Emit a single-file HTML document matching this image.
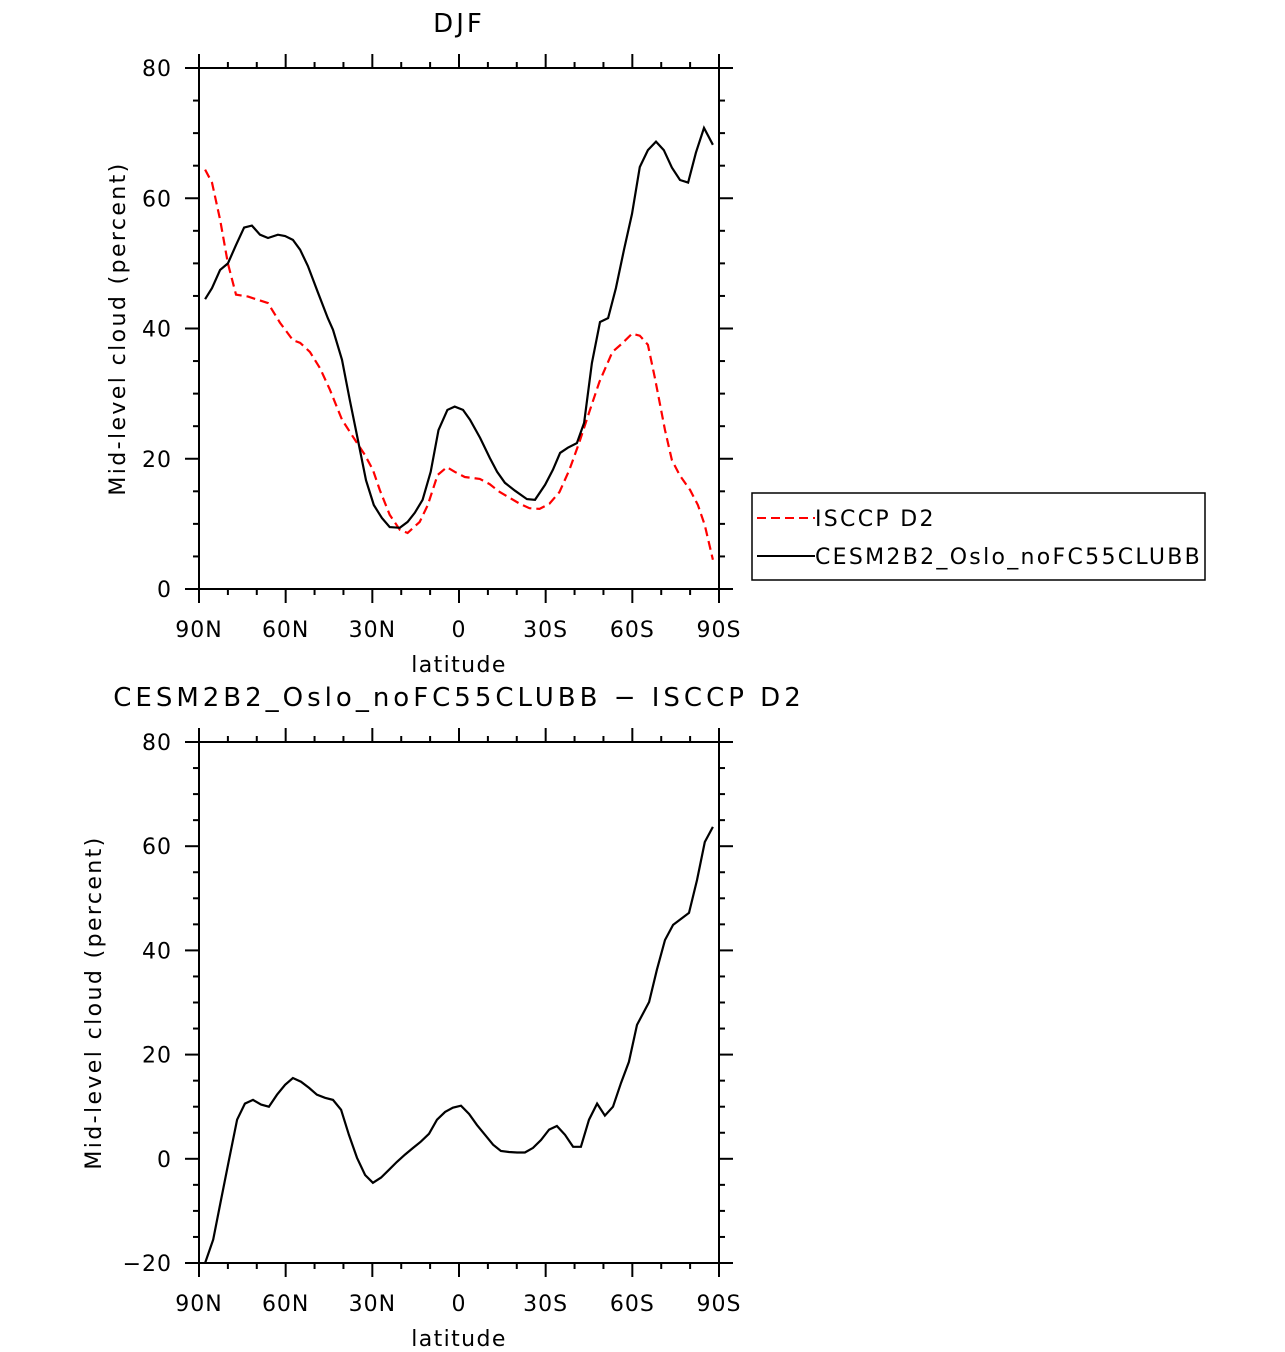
<!DOCTYPE html>
<html><head><meta charset="utf-8"><style>
body{margin:0;background:#fff;}
svg{display:block;font-family:"DejaVu Sans","Liberation Sans",sans-serif;}
</style></head><body>
<svg id="s" width="1285" height="1352" viewBox="0 0 1285 1352"></svg>
<script>
const xTickLats=[90,60,30,0,-30,-60,-90];
const xTickLabels=["90N","60N","30N","0","30S","60S","90S"];
const topYTicks=[0,20,40,60,80];
const botYTicks=[-20,0,20,40,60,80];
const isccpLat=[87.9,85.5,82.7,80,77.2,73,69.6,66.1,62,57.5,55,51.6,48.1,44.7,40.5,36,32.6,29.8,27.4,24,20.5,17.8,13.6,10.8,7.4,4.2,1.5,-2,-7.2,-10.6,-14.1,-17.5,-21,-24.4,-27.9,-31.3,-34.8,-38.2,-41.7,-45.1,-48.6,-53.1,-56.2,-59.9,-62.6,-65.4,-67.8,-71.3,-73.7,-76.5,-80,-82.7,-85.1,-87.9];
const isccpVal=[64.4,62.4,56.7,50,45.2,44.9,44.4,43.9,40.9,38.2,37.8,36.4,33.9,30.6,26,22.9,20.6,18.3,15.2,11.4,9.1,8.6,10.3,12.9,17.5,18.7,18,17.2,16.9,16.1,14.9,14,13.1,12.4,12.3,13.1,14.9,18.3,22.6,27.2,31.8,36.4,37.6,39.2,38.9,37.5,32.4,24.4,19.8,17.4,15.2,12.9,9.8,4.5];
const modelLat=[87.9,85.5,82.7,80,77.2,74.4,71.7,68.9,66.1,62.7,60.2,57.5,55,52.3,48.8,45.4,43.6,40.5,37.8,35,32.2,29.5,26.7,24,20.5,17.8,15.3,12.6,9.8,7.1,4,1.5,-1.4,-3.8,-7.3,-10.7,-13.2,-15.9,-19.4,-23.5,-26.3,-29.8,-32.5,-35,-37.7,-40.8,-43.3,-46,-48.8,-51.6,-54.3,-57.1,-59.9,-62.6,-65.4,-68.2,-70.9,-73.7,-76.5,-79.3,-82,-84.8,-87.9];
const modelVal=[44.5,46.2,49,50,52.8,55.5,55.8,54.4,53.9,54.4,54.2,53.6,52.1,49.6,45.5,41.6,39.8,35.2,29,22.9,16.7,12.9,10.9,9.5,9.4,10.3,11.7,13.7,18,24.4,27.5,28,27.5,26,23.2,20.1,18,16.3,15.1,13.8,13.7,16,18.3,20.9,21.7,22.4,25.5,34.7,41,41.6,46.2,52.1,57.6,64.8,67.4,68.7,67.4,64.7,62.8,62.4,67,70.8,68.2];
const diffLat=[87.9,85.1,82.4,79.6,76.8,74.1,71.3,68.5,65.8,63,60.2,57.5,54.7,51.9,49.2,46.4,43.6,40.8,38.1,35.3,32.5,29.8,27,24.2,21.5,18.7,15.9,13.2,10.4,7.6,4.8,2.1,-0.7,-3.5,-6.2,-9,-11.8,-14.5,-17.3,-20.1,-22.8,-25.6,-28.4,-31.2,-33.9,-36.7,-39.5,-42.2,-45,-47.8,-50.5,-53.3,-56.1,-58.8,-61.6,-65.8,-68.5,-71.3,-74.1,-79.6,-82.4,-85.1,-87.9];
const diffVal=[-20,-15.5,-7.9,-0.2,7.5,10.6,11.3,10.4,10,12.3,14.2,15.5,14.8,13.6,12.3,11.7,11.3,9.4,4.6,0.2,-3.1,-4.6,-3.6,-2.1,-0.6,0.8,2.1,3.3,4.8,7.5,9,9.8,10.2,8.6,6.5,4.6,2.7,1.5,1.3,1.2,1.2,2.1,3.6,5.6,6.3,4.6,2.3,2.3,7.5,10.6,8.3,10,14.6,18.6,25.7,30.1,36.3,42,44.9,47.2,53.5,60.8,63.7];

const svg=document.getElementById('s');
const NS='http://www.w3.org/2000/svg';
function el(t,a,txt){const e=document.createElementNS(NS,t);for(const k in a)e.setAttribute(k,a[k]);if(txt!==undefined)e.textContent=txt;svg.appendChild(e);return e;}
const X0=199,X1=719;
const xs=lat=>X0+(90-lat)/180*(X1-X0);

function panel(p,top,bot,ymin,ymax,yticks,title,titleSpacing){
  const ys=v=>bot-(v-ymin)/(ymax-ymin)*(bot-top);
  let r=el('rect',{x:X0,y:top,width:X1-X0,height:bot-top,fill:'none',stroke:'#000','stroke-width':2});
  
  
  for(let v=ymin;v<=ymax;v+=5){
    const major=yticks.includes(v);const L=major?14:6;
    el('line',{x1:X0-L,x2:X0,y1:ys(v),y2:ys(v),stroke:'#000','stroke-width':2});
    el('line',{x1:X1,x2:X1+L,y1:ys(v),y2:ys(v),stroke:'#000','stroke-width':2});
  }
  yticks.forEach(v=>{
    const t=el('text',{x:X0-27,y:ys(v)+8,'text-anchor':'end','font-size':22,'letter-spacing':1},v<0?'\u2212'+(-v):String(v));
    
    
  });
  for(let lat=90;lat>=-90;lat-=10){
    const major=xTickLats.includes(lat);const L=major?14:6;
    el('line',{x1:xs(lat),x2:xs(lat),y1:top-L,y2:top,stroke:'#000','stroke-width':2});
    el('line',{x1:xs(lat),x2:xs(lat),y1:bot,y2:bot+L,stroke:'#000','stroke-width':2});
  }
  xTickLats.forEach((lat,i)=>{
    const t=el('text',{x:xs(lat),y:bot+48,'text-anchor':'middle','font-size':22,'letter-spacing':1},xTickLabels[i]);
    
    
  });
  let t=el('text',{x:459,y:bot+83,'text-anchor':'middle','font-size':22,'letter-spacing':1.4},'latitude');
  
  
  const cy=(top+bot)/2;const ax=p==='top'?125:101;
  t=el('text',{x:ax,y:cy,'text-anchor':'middle','font-size':22,'letter-spacing':2.4,transform:`rotate(-90 ${ax} ${cy})`},'Mid-level cloud (percent)');
  
  
  t=el('text',{x:459,y:top-36,'text-anchor':'middle','font-size':26,'letter-spacing':titleSpacing},title);
  
  
  return ys;
}
function line(lats,vals,ys,attrs,name){
  const d=lats.map((l,i)=>(i?'L':'M')+xs(l).toFixed(1)+','+ys(vals[i]).toFixed(1)).join('');
  const a=Object.assign({d:d,fill:'none','stroke-width':2.2},attrs);
  const e=el('path',a);
  
  
}
const ysT=panel('top',68,589,0,80,topYTicks,'DJF',3);
line(isccpLat,isccpVal,ysT,{stroke:'#ff0000','stroke-dasharray':'9,5'},'isccp-d2-line');
line(modelLat,modelVal,ysT,{stroke:'#000'},'cesm2b2-line');
const ysB=panel('bot',742,1263,-20,80,botYTicks,'CESM2B2_Oslo_noFC55CLUBB \u2212 ISCCP D2',4);
line(diffLat,diffVal,ysB,{stroke:'#000'},'difference-line');

let lg=el('rect',{x:752,y:493,width:453,height:87,fill:'#fff',stroke:'#000','stroke-width':1.5});


let l1=el('line',{x1:757,x2:815,y1:518,y2:518,stroke:'#ff0000','stroke-width':2,'stroke-dasharray':'9,5'});


let t1=el('text',{x:815,y:526,'font-size':22,'letter-spacing':2.3},'ISCCP D2');


let l2=el('line',{x1:757,x2:815,y1:556,y2:556,stroke:'#000','stroke-width':2});


let t2=el('text',{x:815,y:564,'font-size':22,'letter-spacing':2.3},'CESM2B2_Oslo_noFC55CLUBB');


</script>
</body></html>
